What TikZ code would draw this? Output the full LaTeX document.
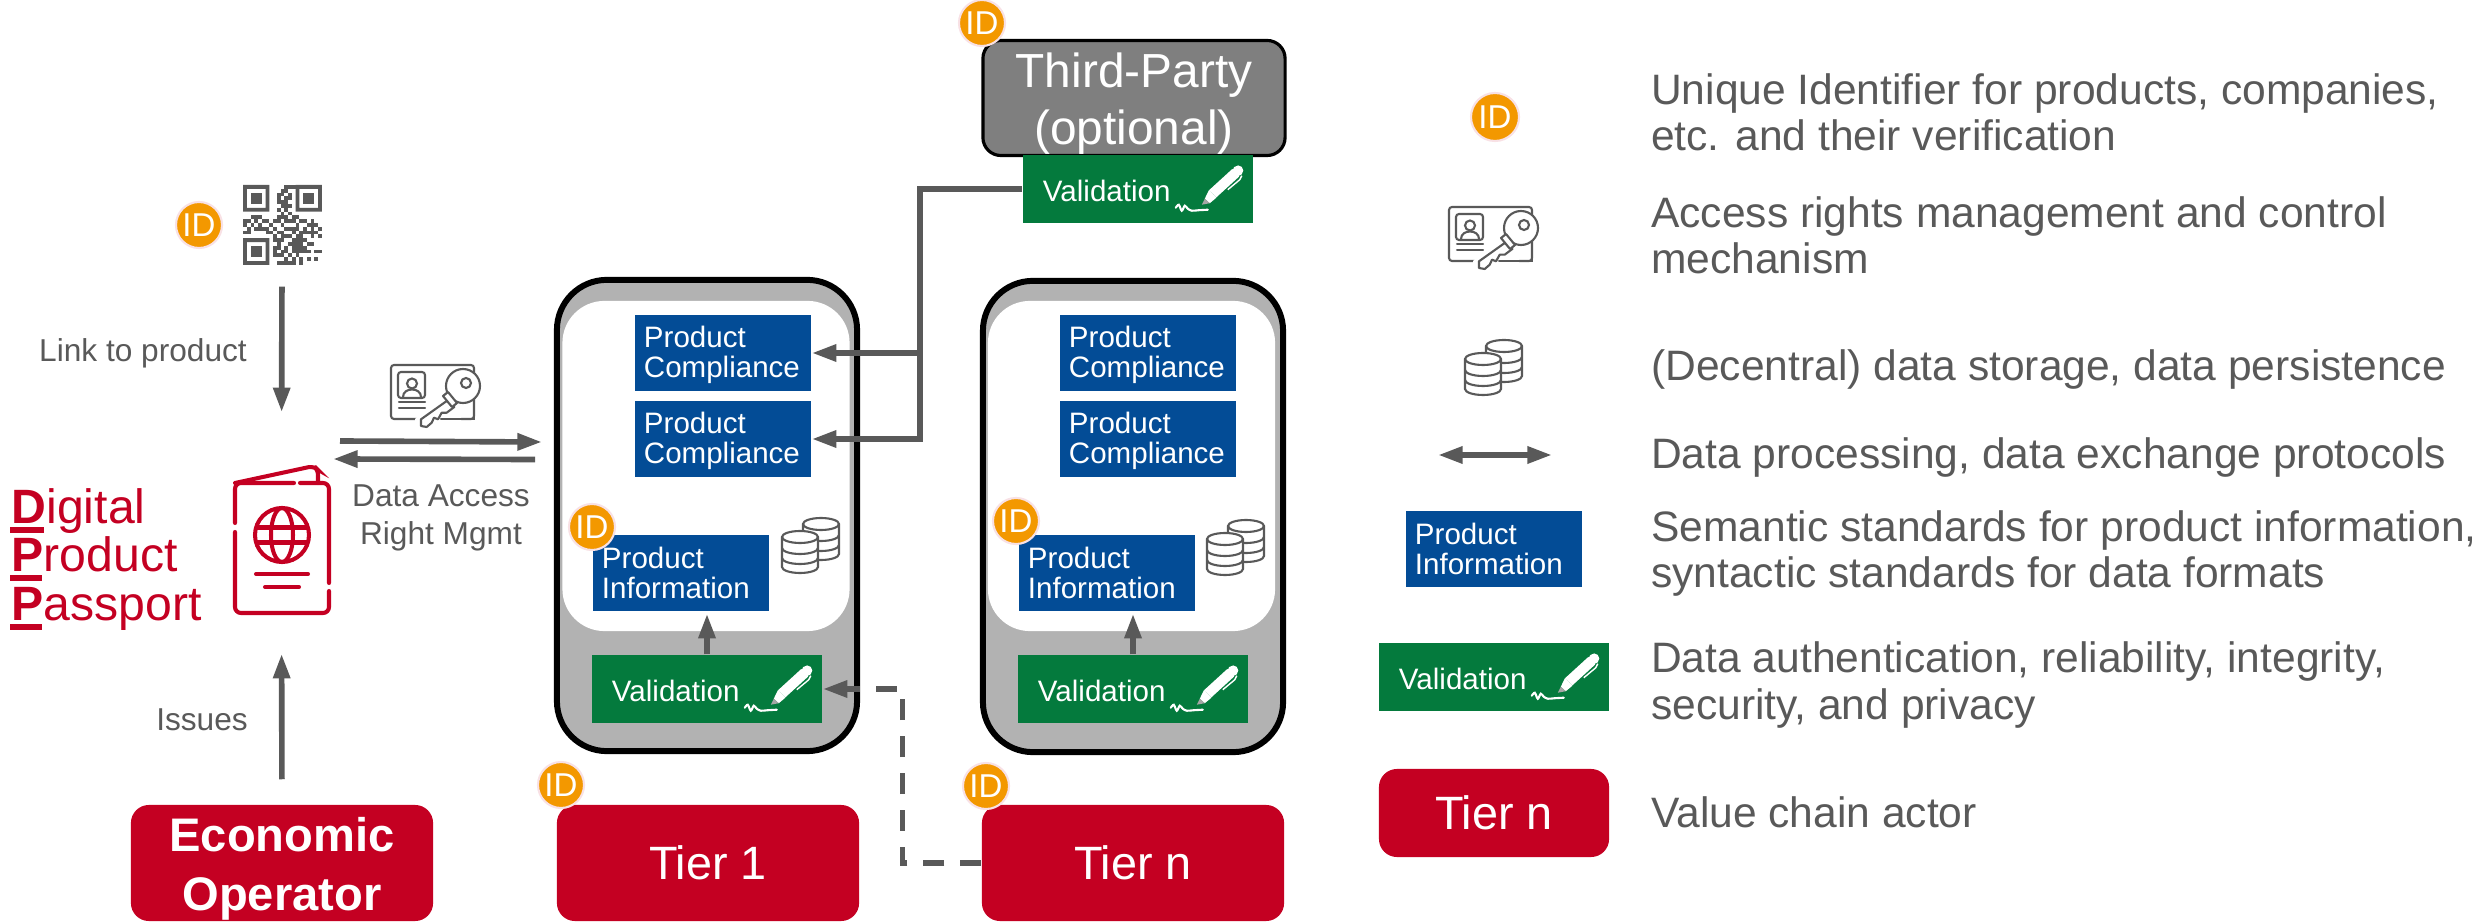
\documentclass[tikz,border=0pt]{standalone}
\usepackage{fontspec}
\setmainfont{Liberation Sans}
\usetikzlibrary{arrows.meta}

\definecolor{dppred}{HTML}{C40022}
\definecolor{dppblue}{HTML}{034C96}
\definecolor{dppgreen}{HTML}{047A3D}
\definecolor{dpporange}{HTML}{F39800}
\definecolor{dppgray}{HTML}{595959}
\definecolor{dppthird}{HTML}{7F7F7F}
\definecolor{dpphalo}{HTML}{F8E1E5}
\definecolor{dppshell}{HTML}{B2B2B2}

\tikzset{
	actor/.style={fill=dppred, text=white, inner sep=0pt, rounded corners=0.18cm, align=center,
		minimum width=3.02cm, minimum height=1.16cm, font=\fontsize{13.3}{17}\selectfont},
	infobox/.style={fill=dppblue, text=white, inner xsep=0.09cm, inner ysep=0pt, text width=1.58cm,
		align=left, minimum height=0.76cm, font=\fontsize{8.4}{8.5}\selectfont},
	compbox/.style={infobox, execute at begin node={\rule{0pt}{6.95pt}}},
	validbox/.style={fill=dppgreen, text=white, inner xsep=0.2cm, inner ysep=0pt, text width=1.9cm,
		align=left, minimum height=0.68cm, font=\fontsize{8.4}{8.5}\selectfont,
		execute at begin node={\rule{0pt}{6.95pt}}},
	shell/.style={draw=black, fill=dppshell, line width=1.7pt, rounded corners=0.5cm, inner sep=0pt,
		minimum width=3cm, minimum height=4.71cm},
	innerbox/.style={fill=white, rounded corners=0.42cm, inner sep=0pt, minimum width=2.87cm, minimum height=3.3cm},
	badge/.style={circle, fill=dpporange, draw=dpphalo, line width=0.6pt, text=white, inner sep=0pt,
		minimum size=0.46cm, font=\fontsize{9.4}{10}\selectfont},
	label/.style={text=dppgray, inner sep=0pt, align=center, font=\fontsize{9}{10.8}\selectfont},
	legend/.style={text=dppgray, inner sep=0pt, align=left, anchor=base west, font=\fontsize{12.1}{13.1}\selectfont},
	dpptext/.style={anchor=base west, inner sep=0pt, text=dppred, font=\fontsize{13.7}{14}\selectfont},
	flow/.style={draw=dppgray, line width=1.6pt, -{Triangle[length=7pt,width=4.6pt]}},
	iconline/.style={draw=dppgray, line width=0.6pt, line cap=round},
	passline/.style={draw=dppred, line width=1.15pt, line cap=round},
	pics/qrmark/.style={code={
		\begin{scope}[x=0.0375cm, y=-0.038cm]
			\foreach \fx/\fy in {0/0,14/0,0/14} {
				\fill[dppgray, even odd rule] (\fx,\fy) rectangle +(7,7) (\fx+1,\fy+1) rectangle +(5,5);
				\fill[dppgray] (\fx+2,\fy+2) rectangle +(3,3);
			}
			\foreach \r/\cols in {0/{11,12,13},1/{10,11},2/{9,10,12},3/{9,11,12},4/{9,10,11},5/{10,11,12},6/{9,11},7/{10,12},
				8/{2,3,4,9,10,11,13,14},9/{0,1,3,5,6,8,9,11,12,13,15,16,18},10/{0,2,4,7,10,14,17,18,19},
				11/{1,3,4,5,6,8,11,12,13,14,16,18,20},12/{0,1,6,7,9,10,13,15,16,17,18,19},13/{8,10,11,12,14,15,18,20},
				14/{8,9,10,13,14,15,16},15/{9,12,13,14,15,17,18},16/{8,9,11,13,14,15,16},17/{8,10,11,13,14,15,16,17,19,20},
				18/{8,9,10,12,14},19/{11,13,15,17,19},20/{9,10,11,12,13,15}} {
				\foreach \c in \cols {
					\fill[dppgray] (\c,\r) rectangle +(1,1);
				}
			}
		\end{scope}
	}},
	pics/idcard/.style={code={
		\draw[iconline, rounded corners=0.03cm] (0,0) rectangle (83,54);
		\draw[iconline, rounded corners=0.03cm] (7,7) rectangle (34,33);
		\draw[iconline] (21,18.5) circle (5);
		\draw[iconline] (12,32) .. controls (12,22) and (30,22) .. (30,32);
		\draw[iconline] (8,37) -- (34,37);
		\draw[iconline] (8,43) -- (34,43);
		\fill[white] (50,30) -- (24,54) -- (24,66) -- (70,66) -- (70,30) -- cycle;
		\draw[iconline] (50,54) -- (83,54) -- (83,30);
		\draw[iconline, fill=white, line join=round] (55.7,36) -- (30,54.3) -- (30,61) -- (35.7,62) -- (40.7,57.7) -- (43,52.7)
			-- (47,54.3) -- (50.7,47.7) -- (55.7,47.7) -- (63.3,42) -- cycle;
		\draw[iconline, fill=white] (72,21) circle (17);
		\draw[iconline, fill=white, line join=round] (52,31) -- (57,27) -- (66,38) -- (61,42) -- cycle;
		\draw[iconline] (75,18) circle (5);
	}},
	pics/dbstack/.style={code={
		\foreach \dx/\dy in {21/0,0/13} {
			\begin{scope}[shift={(\dx,\dy)}]
				\draw[iconline, fill=white] (0,6) arc (180:360:18 and 6) -- (36,36) arc (0:180:18 and 6) -- cycle;
				\draw[iconline] (0,6) arc (180:0:18 and 6);
				\draw[iconline] (0,17) arc (180:0:18 and 6);
				\draw[iconline] (0,27) arc (180:0:18 and 6);
			\end{scope}
		}
	}},
	pics/quill/.style={code={
		\draw[white, line width=2.9pt] (-41,-30) -- (-18,-51);
		\draw[white, line width=2.9pt, line cap=round] (-16.3,-52.5) -- (-15.6,-53.2);
		\fill[white] (-37.4,-26) -- (-44.6,-34) -- (-49,-25) -- (-44,-20.5) -- cycle;
		\fill[white!65!black] (-49,-25) -- (-52,-19) -- (-44,-20.5) -- cycle;
		\draw[white, line width=0.4pt] (-26,-34) -- (-14,-44) -- (-12,-48);
		\draw[white, line width=0.6pt, line cap=round] plot[smooth] coordinates {(-78,-16) (-75,-19) (-72,-13) (-69,-18) (-66,-15) (-62,-13) (-55,-13.5) (-46,-14)};
	}}
}

\begin{document}
\begin{tikzpicture}[x=0.01cm, y=-0.01cm]

	\useasboundingbox (0,0) rectangle (2476,922);

	% tier containers
	\node[shell] (shellone) at (707,515.5) {};
	\node[innerbox] (innerone) at (706,466) {};
	\node[shell] (shelltwo) at (1133,516.5) {};
	\node[innerbox] (innertwo) at (1131.5,466) {};

	\node[compbox] (compone) at (723,353) {Product\\Compliance};
	\node[compbox] (comptwo) at (723,439) {Product\\Compliance};
	\node[compbox] (compthree) at (1148,353) {Product\\Compliance};
	\node[compbox] (compfour) at (1148,439) {Product\\Compliance};
	\node[infobox] (infoone) at (681,573) {Product\\Information};
	\node[infobox] (infotwo) at (1107,573) {Product\\Information};
	\node[validbox] (validone) at (707,689) {Validation};
	\node[validbox] (validtwo) at (1133,689) {Validation};

	\pic at (validone.south east) {quill};
	\pic at (validtwo.south east) {quill};
	\pic at (782,518) {dbstack};
	\pic at (1207,520) {dbstack};

	% third party
	\node[actor, draw=black, line width=0.9pt, fill=dppthird, minimum height=1.15cm, font=\fontsize{13.6}{16}\selectfont] (third) at (1134,98) {\rule{0pt}{13pt}Third-Party\\(optional)};
	\node[validbox] (validthree) at (1138,189) {Validation};
	\pic at (validthree.south east) {quill};

	% actors
	\node[actor, font=\fontsize{13.4}{17}\bfseries\selectfont] (operator) at (282,863) {\rule{0pt}{13pt}Economic\\Operator};
	\node[actor] (tierone) at (708,863) {Tier 1};
	\node[actor] (tiern) at (1133,863) {Tier n};

	% passport
	\node[minimum width=0.97cm, minimum height=1.47cm, inner sep=0pt] (passport) at (281.5,539.5) {};
	\draw[passline, rounded corners=0.06cm] (294,483) -- (235,483) -- (235,523);
	\draw[passline, rounded corners=0.06cm] (235,532) -- (235,613) -- (329,613) -- (329,591);
	\draw[passline, rounded corners=0.06cm] (329,583) -- (329,483) -- (300,483);
	\draw[passline, rounded corners=0.05cm] (235,483) -- (314,466) -- (318,470) -- (318,483);
	\draw[passline] (282,535) circle (27);
	\draw[passline] (282,535) ellipse (11 and 27);
	\draw[passline] (257,527.5) -- (307,527.5);
	\draw[passline] (257,542.5) -- (307,542.5);
	\draw[passline] (256,574) -- (308,574);
	\draw[passline] (265,587) -- (299,587);

	\node[dpptext] (digital) at (11,524) {\textbf{D}igital};
	\node[dpptext] (product) at (11,572) {\textbf{P}roduct};
	\node[dpptext] (pass) at (11,621) {\textbf{P}assport};
	\fill[dppred] (10,527) rectangle (44,533);
	\fill[dppred] (10,575) rectangle (42,581);
	\fill[dppred] (10,624) rectangle (42,630);

	% qr and access
	\node[minimum width=0.78cm, minimum height=0.8cm, inner sep=0pt] (qr) at (282,225) {};
	\pic at (243,185) {qrmark};
	\pic at (391,365) {idcard};

	\coordinate (accessa) at (340,441);
	\coordinate (accessb) at (542,442);
	\coordinate (accessc) at (535,459.5);
	\coordinate (accessd) at (333,459);
	\coordinate (bus) at (920,353);

	\node[label] (linklabel) at (143,353.5) {Link to product};
	\node[label] (accesslabel) at (441,518) {Data Access\\Right Mgmt};
	\node[label] (issues) at (202,720) {Issues};

	% connectors
	\draw[flow, shorten <=0.21cm, shorten >=0.53cm] (qr.south) -- (passport.north);
	\draw[flow, xshift=-0.02cm, shorten <=0.25cm, shorten >=0.4cm] (operator.north) -- (passport.south);
	\draw[flow] (accessa) -- (accessb);
	\draw[flow] (accessc) -- (accessd);
	\draw[flow, shorten >=0.02cm] (validone.north) -- (infoone.south -| validone.north);
	\draw[flow, shorten >=0.02cm] (validtwo.north) -- (infotwo.south -| validtwo.north);
	\draw[flow] (validthree.west) -| (bus |- comptwo.east) -- (comptwo.east);
	\draw[flow] (bus) -- (compone.east);
	\draw[flow, dash pattern=on 6pt off 4.5pt] (tiern.west) -| (902.5,689) -- (validone.east);

	% id badges
	\node[badge] (idqr) at (199,225) {ID};
	\node[badge] (idthird) at (982,23) {ID};
	\node[badge] (idone) at (592,527) {ID};
	\node[badge] (idtwo) at (1016,521) {ID};
	\node[badge] (idtierone) at (561,785) {ID};
	\node[badge] (idtiern) at (986,786) {ID};

	% legend
	\node[badge, minimum size=0.48cm] (keyid) at (1495,117) {ID};
	\pic at (1449,207) {idcard};
	\pic at (1465,340) {dbstack};
	\coordinate (keya) at (1438,455);
	\coordinate (keyb) at (1552,455);
	\draw[draw=dppgray, line width=1.6pt, {Triangle[length=7pt,width=4.6pt]}-{Triangle[length=7pt,width=4.6pt]}] (keya) -- (keyb);
	\node[infobox] (keyinfo) at (1494,549) {Product\\Information};
	\node[validbox] (keyvalid) at (1494,677) {Validation};
	\pic at (keyvalid.south east) {quill};
	\node[actor, minimum width=2.3cm, minimum height=0.88cm] (keytier) at (1494,813) {Tier n};

	\node[legend] (texta) at (1650.5,151) {Unique Identifier for products, companies,\\etc. and their verification};
	\node[legend] (textb) at (1650.5,274) {Access rights management and control\\mechanism};
	\node[legend] (textc) at (1650.5,381) {(Decentral) data storage, data persistence};
	\node[legend] (textd) at (1650.5,469) {Data processing, data exchange protocols};
	\node[legend] (texte) at (1650.5,588) {Semantic standards for product information,\\syntactic standards for data formats};
	\node[legend] (textf) at (1650.5,719) {Data authentication, reliability, integrity,\\security, and privacy};
	\node[legend] (textg) at (1650.5,827) {Value chain actor};

\end{tikzpicture}
\end{document}
